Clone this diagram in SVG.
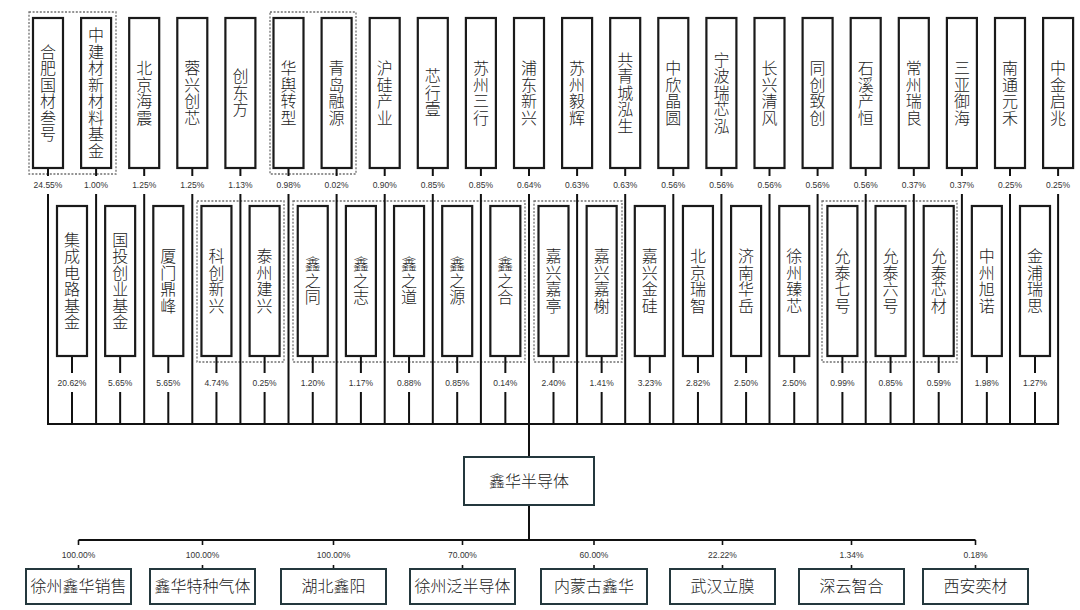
<svg xmlns="http://www.w3.org/2000/svg" width="1080" height="610" viewBox="0 0 1080 610">
<style>
.box{fill:#fff;stroke:#1a1a1a;stroke-width:2.2}
.bb{fill:#fff;stroke:#24383d;stroke-width:2}
.grp{fill:none;stroke:#707070;stroke-width:1.3;stroke-dasharray:2 1.6}
.ln{stroke:#111;stroke-width:2;fill:none}
.v{font-family:"Noto Sans CJK SC","Liberation Sans",sans-serif;font-weight:300;font-size:16px;fill:#222;text-anchor:middle;writing-mode:vertical-rl;letter-spacing:0.5px}
.h{font-family:"Noto Sans CJK SC","Liberation Sans",sans-serif;font-weight:300;font-size:16px;fill:#222;text-anchor:middle}
.p{font-family:"Liberation Sans",sans-serif;font-size:8.5px;fill:#333;text-anchor:middle}
</style>
<rect width="1080" height="610" fill="#fff"/>
<g id="groups">
<rect class="grp" x="29" y="12" width="87" height="162"/>
<rect class="grp" x="270" y="12" width="86" height="162"/>
<rect class="grp" x="197" y="201" width="87" height="161"/>
<rect class="grp" x="293" y="201" width="232" height="161"/>
<rect class="grp" x="534" y="201" width="88" height="161"/>
<rect class="grp" x="822" y="201" width="135" height="161"/>
</g>
<g id="connectors">
<path class="ln" d="M48,168V176M48,194V424M96.1,168V176M96.1,194V424M144.2,168V176M144.2,194V424M192.3,168V176M192.3,194V424M240.4,168V176M240.4,194V424M288.5,168V176M288.5,194V424M336.6,168V176M336.6,194V424M384.7,168V176M384.7,194V424M432.8,168V176M432.8,194V424M480.9,168V176M480.9,194V424M529,168V176M529,194V424M577.1,168V176M577.1,194V424M625.2,168V176M625.2,194V424M673.3,168V176M673.3,194V424M721.4,168V176M721.4,194V424M769.5,168V176M769.5,194V424M817.6,168V176M817.6,194V424M865.7,168V176M865.7,194V424M913.8,168V176M913.8,194V424M961.9,168V176M961.9,194V424M1010,168V176M1010,194V424M1058.1,168V176M1058.1,194V424"/>
<path class="ln" d="M72,356V373M72,392V424M120.15,356V373M120.15,392V424M168.3,356V373M168.3,392V424M216.45,356V373M216.45,392V424M264.6,356V373M264.6,392V424M312.75,356V373M312.75,392V424M360.9,356V373M360.9,392V424M409.05,356V373M409.05,392V424M457.2,356V373M457.2,392V424M505.35,356V373M505.35,392V424M553.5,356V373M553.5,392V424M601.65,356V373M601.65,392V424M649.8,356V373M649.8,392V424M697.95,356V373M697.95,392V424M746.1,356V373M746.1,392V424M794.25,356V373M794.25,392V424M842.4,356V373M842.4,392V424M890.55,356V373M890.55,392V424M938.7,356V373M938.7,392V424M986.85,356V373M986.85,392V424M1035,356V373M1035,392V424"/>
<path class="ln" d="M47,424H1059M529,424V457M529,505V540M78.5,540H975.5"/>
<path class="ln" style="stroke-width:1.6" d="M78.5,540V545M78.5,565V569M202.5,540V545M202.5,565V569M333.5,540V545M333.5,565V569M462.5,540V545M462.5,565V569M594,540V545M594,565V569M722.5,540V545M722.5,565V569M851.5,540V545M851.5,565V569M975.5,540V545M975.5,565V569"/>
</g>
<g id="pct-top">
<text class="p" x="48" y="188">24.55%</text>
<text class="p" x="96.1" y="188">1.00%</text>
<text class="p" x="144.2" y="188">1.25%</text>
<text class="p" x="192.3" y="188">1.25%</text>
<text class="p" x="240.4" y="188">1.13%</text>
<text class="p" x="288.5" y="188">0.98%</text>
<text class="p" x="336.6" y="188">0.02%</text>
<text class="p" x="384.7" y="188">0.90%</text>
<text class="p" x="432.8" y="188">0.85%</text>
<text class="p" x="480.9" y="188">0.85%</text>
<text class="p" x="529" y="188">0.64%</text>
<text class="p" x="577.1" y="188">0.63%</text>
<text class="p" x="625.2" y="188">0.63%</text>
<text class="p" x="673.3" y="188">0.56%</text>
<text class="p" x="721.4" y="188">0.56%</text>
<text class="p" x="769.5" y="188">0.56%</text>
<text class="p" x="817.6" y="188">0.56%</text>
<text class="p" x="865.7" y="188">0.56%</text>
<text class="p" x="913.8" y="188">0.37%</text>
<text class="p" x="961.9" y="188">0.37%</text>
<text class="p" x="1010" y="188">0.25%</text>
<text class="p" x="1058.1" y="188">0.25%</text>
</g>
<g id="pct-mid">
<text class="p" x="72" y="386">20.62%</text>
<text class="p" x="120.15" y="386">5.65%</text>
<text class="p" x="168.3" y="386">5.65%</text>
<text class="p" x="216.45" y="386">4.74%</text>
<text class="p" x="264.6" y="386">0.25%</text>
<text class="p" x="312.75" y="386">1.20%</text>
<text class="p" x="360.9" y="386">1.17%</text>
<text class="p" x="409.05" y="386">0.88%</text>
<text class="p" x="457.2" y="386">0.85%</text>
<text class="p" x="505.35" y="386">0.14%</text>
<text class="p" x="553.5" y="386">2.40%</text>
<text class="p" x="601.65" y="386">1.41%</text>
<text class="p" x="649.8" y="386">3.23%</text>
<text class="p" x="697.95" y="386">2.82%</text>
<text class="p" x="746.1" y="386">2.50%</text>
<text class="p" x="794.25" y="386">2.50%</text>
<text class="p" x="842.4" y="386">0.99%</text>
<text class="p" x="890.55" y="386">0.85%</text>
<text class="p" x="938.7" y="386">0.59%</text>
<text class="p" x="986.85" y="386">1.98%</text>
<text class="p" x="1035" y="386">1.27%</text>
</g>
<g id="pct-bottom">
<text class="p" x="78.5" y="558">100.00%</text>
<text class="p" x="202.5" y="558">100.00%</text>
<text class="p" x="333.5" y="558">100.00%</text>
<text class="p" x="462.5" y="558">70.00%</text>
<text class="p" x="594" y="558">60.00%</text>
<text class="p" x="722.5" y="558">22.22%</text>
<text class="p" x="851.5" y="558">1.34%</text>
<text class="p" x="975.5" y="558">0.18%</text>
</g>
<g id="t0"><rect class="box" x="33" y="18" width="30" height="150"/><text class="v" x="48" y="93">合肥国材叁号</text></g>
<g id="t1"><rect class="box" x="81.1" y="18" width="30" height="150"/><text class="v" x="96.1" y="93">中建材新材料基金</text></g>
<g id="t2"><rect class="box" x="129.2" y="18" width="30" height="150"/><text class="v" x="144.2" y="93">北京海震</text></g>
<g id="t3"><rect class="box" x="177.3" y="18" width="30" height="150"/><text class="v" x="192.3" y="93">蓉兴创芯</text></g>
<g id="t4"><rect class="box" x="225.4" y="18" width="30" height="150"/><text class="v" x="240.4" y="93">创东方</text></g>
<g id="t5"><rect class="box" x="273.5" y="18" width="30" height="150"/><text class="v" x="288.5" y="93">华舆转型</text></g>
<g id="t6"><rect class="box" x="321.6" y="18" width="30" height="150"/><text class="v" x="336.6" y="93">青岛融源</text></g>
<g id="t7"><rect class="box" x="369.7" y="18" width="30" height="150"/><text class="v" x="384.7" y="93">沪硅产业</text></g>
<g id="t8"><rect class="box" x="417.8" y="18" width="30" height="150"/><text class="v" x="432.8" y="93">芯行壹</text></g>
<g id="t9"><rect class="box" x="465.9" y="18" width="30" height="150"/><text class="v" x="480.9" y="93">苏州三行</text></g>
<g id="t10"><rect class="box" x="514" y="18" width="30" height="150"/><text class="v" x="529" y="93">浦东新兴</text></g>
<g id="t11"><rect class="box" x="562.1" y="18" width="30" height="150"/><text class="v" x="577.1" y="93">苏州毅辉</text></g>
<g id="t12"><rect class="box" x="610.2" y="18" width="30" height="150"/><text class="v" x="625.2" y="93">共青城泓生</text></g>
<g id="t13"><rect class="box" x="658.3" y="18" width="30" height="150"/><text class="v" x="673.3" y="93">中欣晶圆</text></g>
<g id="t14"><rect class="box" x="706.4" y="18" width="30" height="150"/><text class="v" x="721.4" y="93">宁波瑞芯泓</text></g>
<g id="t15"><rect class="box" x="754.5" y="18" width="30" height="150"/><text class="v" x="769.5" y="93">长兴清风</text></g>
<g id="t16"><rect class="box" x="802.6" y="18" width="30" height="150"/><text class="v" x="817.6" y="93">同创致创</text></g>
<g id="t17"><rect class="box" x="850.7" y="18" width="30" height="150"/><text class="v" x="865.7" y="93">石溪产恒</text></g>
<g id="t18"><rect class="box" x="898.8" y="18" width="30" height="150"/><text class="v" x="913.8" y="93">常州瑞良</text></g>
<g id="t19"><rect class="box" x="946.9" y="18" width="30" height="150"/><text class="v" x="961.9" y="93">三亚御海</text></g>
<g id="t20"><rect class="box" x="995" y="18" width="30" height="150"/><text class="v" x="1010" y="93">南通元禾</text></g>
<g id="t21"><rect class="box" x="1043.1" y="18" width="30" height="150"/><text class="v" x="1058.1" y="93">中金启兆</text></g>
<g id="m0"><rect class="box" x="57" y="206" width="30" height="150"/><text class="v" x="72" y="281">集成电路基金</text></g>
<g id="m1"><rect class="box" x="105.15" y="206" width="30" height="150"/><text class="v" x="120.15" y="281">国投创业基金</text></g>
<g id="m2"><rect class="box" x="153.3" y="206" width="30" height="150"/><text class="v" x="168.3" y="281">厦门鼎峰</text></g>
<g id="m3"><rect class="box" x="201.45" y="206" width="30" height="150"/><text class="v" x="216.45" y="281">科创新兴</text></g>
<g id="m4"><rect class="box" x="249.6" y="206" width="30" height="150"/><text class="v" x="264.6" y="281">泰州建兴</text></g>
<g id="m5"><rect class="box" x="297.75" y="206" width="30" height="150"/><text class="v" x="312.75" y="281">鑫之同</text></g>
<g id="m6"><rect class="box" x="345.9" y="206" width="30" height="150"/><text class="v" x="360.9" y="281">鑫之志</text></g>
<g id="m7"><rect class="box" x="394.05" y="206" width="30" height="150"/><text class="v" x="409.05" y="281">鑫之道</text></g>
<g id="m8"><rect class="box" x="442.2" y="206" width="30" height="150"/><text class="v" x="457.2" y="281">鑫之源</text></g>
<g id="m9"><rect class="box" x="490.35" y="206" width="30" height="150"/><text class="v" x="505.35" y="281">鑫之合</text></g>
<g id="m10"><rect class="box" x="538.5" y="206" width="30" height="150"/><text class="v" x="553.5" y="281">嘉兴嘉亭</text></g>
<g id="m11"><rect class="box" x="586.65" y="206" width="30" height="150"/><text class="v" x="601.65" y="281">嘉兴嘉榭</text></g>
<g id="m12"><rect class="box" x="634.8" y="206" width="30" height="150"/><text class="v" x="649.8" y="281">嘉兴金硅</text></g>
<g id="m13"><rect class="box" x="682.95" y="206" width="30" height="150"/><text class="v" x="697.95" y="281">北京瑞智</text></g>
<g id="m14"><rect class="box" x="731.1" y="206" width="30" height="150"/><text class="v" x="746.1" y="281">济南华岳</text></g>
<g id="m15"><rect class="box" x="779.25" y="206" width="30" height="150"/><text class="v" x="794.25" y="281">徐州臻芯</text></g>
<g id="m16"><rect class="box" x="827.4" y="206" width="30" height="150"/><text class="v" x="842.4" y="281">允泰七号</text></g>
<g id="m17"><rect class="box" x="875.55" y="206" width="30" height="150"/><text class="v" x="890.55" y="281">允泰六号</text></g>
<g id="m18"><rect class="box" x="923.7" y="206" width="30" height="150"/><text class="v" x="938.7" y="281">允泰芯材</text></g>
<g id="m19"><rect class="box" x="971.85" y="206" width="30" height="150"/><text class="v" x="986.85" y="281">中州旭诺</text></g>
<g id="m20"><rect class="box" x="1020" y="206" width="30" height="150"/><text class="v" x="1035" y="281">金浦瑞思</text></g>
<g id="center"><rect class="bb" x="464" y="457" width="130" height="48"/><text class="h" x="529" y="487">鑫华半导体</text></g>
<g id="b0"><rect class="bb" x="26" y="569" width="105" height="35"/><text class="h" x="78.5" y="592">徐州鑫华销售</text></g>
<g id="b1"><rect class="bb" x="150" y="569" width="105" height="35"/><text class="h" x="202.5" y="592">鑫华特种气体</text></g>
<g id="b2"><rect class="bb" x="281" y="569" width="105" height="35"/><text class="h" x="333.5" y="592">湖北鑫阳</text></g>
<g id="b3"><rect class="bb" x="410" y="569" width="105" height="35"/><text class="h" x="462.5" y="592">徐州泛半导体</text></g>
<g id="b4"><rect class="bb" x="541" y="569" width="106" height="35"/><text class="h" x="594" y="592">内蒙古鑫华</text></g>
<g id="b5"><rect class="bb" x="670" y="569" width="105" height="35"/><text class="h" x="722.5" y="592">武汉立膜</text></g>
<g id="b6"><rect class="bb" x="799" y="569" width="105" height="35"/><text class="h" x="851.5" y="592">深云智合</text></g>
<g id="b7"><rect class="bb" x="923" y="569" width="105" height="35"/><text class="h" x="975.5" y="592">西安奕材</text></g>
</svg>
